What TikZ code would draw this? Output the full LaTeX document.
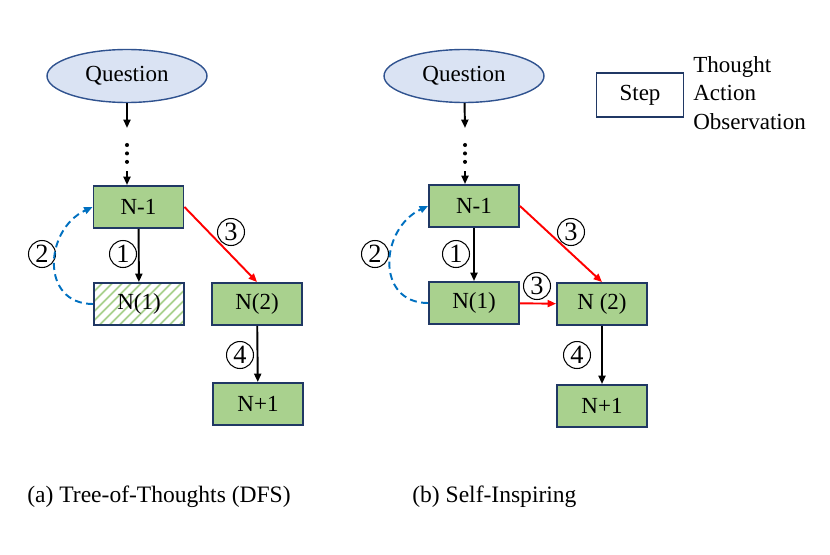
\documentclass[tikz,border=0pt]{standalone}
\usepackage{fontspec}
\setmainfont{Liberation Serif}
\usetikzlibrary{arrows.meta,shapes.geometric,patterns.meta}
\definecolor{boxgreen}{HTML}{A9D18E}
\definecolor{boxline}{HTML}{203864}
\definecolor{qfill}{HTML}{DAE3F3}
\definecolor{qline}{HTML}{2F528F}
\definecolor{loopblue}{HTML}{0070C0}
\newcommand{\bigtext}{\fontsize{13.1}{16.2}\selectfont}
\newcommand{\numtext}{\fontsize{15}{16}\selectfont}
\newcommand{\captext}{\fontsize{13.4}{16}\selectfont}
\tikzset{
    question/.style={ellipse, draw=qline, fill=qfill, line width=0.8pt, minimum width=3.2cm, minimum height=1.06cm, inner sep=0pt, font=\bigtext},
    boxbase/.style={rectangle, draw=boxline, line width=1.1pt, minimum width=1.8cm, minimum height=0.84cm, inner sep=0pt, font=\bigtext},
    stepnode/.style={boxbase, fill=boxgreen},
    failnode/.style={boxbase, pattern={Lines[angle=45,distance=4pt,line width=1.1pt]}, pattern color=boxgreen},
    legendnode/.style={boxbase, fill=white, minimum width=1.74cm, minimum height=0.88cm},
    num/.style={circle, draw, line width=0.6pt, minimum size=0.54cm, inner sep=0pt, font=\numtext},
    arrow/.style={-{Triangle[length=4.8pt,width=4pt]}, line width=1.1pt},
    redarrow/.style={arrow, red},
    backarrow/.style={arrow, loopblue, dash pattern=on 4pt off 2.5pt},
    dots/.style={line width=2.3pt, line cap=round, dash pattern=on 0pt off 4.8pt},
}
\begin{document}
\begin{tikzpicture}[x=0.02cm, y=-0.02cm]
    \useasboundingbox (0, 0) rectangle (830, 554);
    % (a) Tree-of-Thoughts
        \node [question] (0) at (127, 76) {Question};
        \coordinate (1) at (127, 128);
        \coordinate (2) at (127, 145);
        \coordinate (3) at (127, 162);
        \coordinate (4) at (127, 171);
        \node [stepnode] (5) at (138.5, 207) {N-1};
        \node [failnode] (6) at (139, 304) {N(1)};
        \node [stepnode] (7) at (257, 304) {N(2)};
        \node [stepnode] (8) at (258, 404) {N+1};
        \node [num] (9) at (123, 254) {1};
        \node [num] (10) at (42, 254) {2};
        \node [num] (11) at (231, 232) {3};
        \node [num] (12) at (240, 355) {4};
        \draw [arrow] (0) to (1);
        \draw [dots] (2) to (3);
        \draw [arrow] (4) to (4 |- 5.north);
		\draw [arrow] (5) to (6);
		\draw [backarrow, out=180, in=205, looseness=1.4] (6.west) to (5.west);
		\draw [redarrow] (5.east) to (7.north);
		\draw [arrow] (7) to (8);
    % (b) Self-Inspiring
        \node [question] (13) at (464, 76) {Question};
        \coordinate (14) at (465, 128);
        \coordinate (15) at (465, 145);
        \coordinate (16) at (465, 162);
        \coordinate (17) at (465, 171);
        \node [stepnode] (18) at (474, 206) {N-1};
        \node [stepnode] (19) at (474, 303) {N(1)};
        \node [stepnode] (20) at (602, 304) {N (2)};
        \node [stepnode] (21) at (602, 406) {N+1};
        \node [num] (22) at (456, 254) {1};
        \node [num] (23) at (375, 254) {2};
        \node [num] (24) at (571, 232) {3};
        \node [num] (25) at (537, 286) {3};
        \node [num] (26) at (577, 355) {4};
        \draw [arrow] (13) to (14);
        \draw [dots] (15) to (16);
        \draw [arrow] (17) to (17 |- 18.north);
		\draw [arrow] (18) to (19);
		\draw [backarrow, out=180, in=205, looseness=1.4] (19.west) to (18.west);
		\draw [redarrow] (18.east) to (20.north);
		\draw [redarrow] (19) to (20);
		\draw [arrow] (20) to (21);
    % legend
        \node [legendnode] (27) at (640, 95) {Step};
        \node [anchor=north west, inner sep=0pt, align=left, font=\bigtext] (28) at (693, 56) {Thought\\Action\\Observation};
    % captions
        \node [anchor=base west, inner sep=0pt, font=\captext] (29) at (27, 502) {(a) Tree-of-Thoughts (DFS)};
        \node [anchor=base west, inner sep=0pt, font=\captext] (30) at (412, 502) {(b) Self-Inspiring};
\end{tikzpicture}
\end{document}
